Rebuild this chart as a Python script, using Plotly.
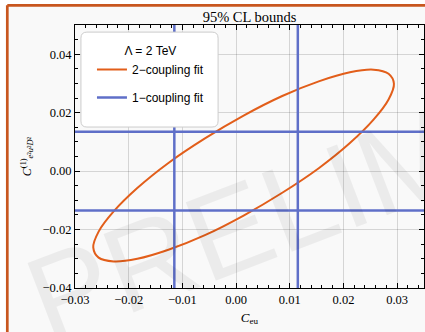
import plotly.graph_objects as go

# ---- data ----
# 95% CL contour of the 2-coupling fit
ellipse_ceu = [0.0294, 0.0284, 0.0256, 0.0212, 0.0154, 0.0086, 0.0014, -0.0058,
               -0.0126, -0.0184, -0.0228, -0.0256, -0.0266, -0.0256, -0.0228, -0.0184,
               -0.0126, -0.0058, 0.0014, 0.0086, 0.0154, 0.0212, 0.0256, 0.0284, 0.0294]
ellipse_c1 = [0.0299, 0.0333, 0.0347, 0.0338, 0.0307, 0.0257, 0.0190, 0.0112,
              0.0028, -0.0058, -0.0138, -0.0207, -0.0261, -0.0296, -0.0309, -0.0300,
              -0.0269, -0.0219, -0.0152, -0.0074, 0.0010, 0.0096, 0.0176, 0.0245, 0.0299]
# 1-coupling fit bounds (symmetric)
bound_ceu = [-0.0115, 0.0115]
bound_c1 = [-0.0135, 0.0135]

x_range = [-0.03, 0.035]
y_range = [-0.04, 0.05]
x_ticks = [-0.03, -0.02, -0.01, 0.00, 0.01, 0.02, 0.03]
y_ticks = [-0.04, -0.02, 0.00, 0.02, 0.04]

ORANGE = "#e25e1a"
BLUE = "#5f6fc8"
FRAME = "#c8561e"
BG = "#f9f9f9"
SERIF = "Liberation Serif"
SANS = "Liberation Sans"

# build 1-coupling line set from bounds and axis ranges
bx, by = [], []
for v in bound_ceu:
    bx += [v, v, None]
    by += [y_range[0] - 1, y_range[1] + 1, None]
for v in bound_c1:
    bx += [x_range[0] - 1, x_range[1] + 1, None]
    by += [v, v, None]

fig = go.Figure()
fig.add_trace(go.Scatter(x=ellipse_ceu, y=ellipse_c1, mode="lines",
                         line=dict(color=ORANGE, width=2, shape="spline", smoothing=1.0),
                         name="2\u2212coupling fit", legendgroup="a", hoverinfo="skip"))
fig.add_trace(go.Scatter(x=bx, y=by, mode="lines",
                         line=dict(color=BLUE, width=2.5),
                         name="1\u2212coupling fit", legendgroup="b", hoverinfo="skip"))

axis_common = dict(
    showline=True, linecolor="black", linewidth=1, mirror="ticks",
    ticks="inside", ticklen=5, tickcolor="black", tickwidth=1,
    showgrid=True, gridcolor="rgba(0,0,0,0.14)", gridwidth=1,
    zeroline=False, tickfont=dict(family=SERIF, size=12.5, color="black"),
    tickformat=".2f",
)

fig.update_xaxes(range=x_range, tickvals=x_ticks,
                 minor=dict(dtick=0.002, ticks="inside", ticklen=3, tickcolor="black", showgrid=False),
                 title=dict(text="<i>C</i><sub>eu</sub>", font=dict(family=SERIF, size=13, color="black"), standoff=6),
                 **axis_common)
fig.update_yaxes(range=y_range, tickvals=y_ticks,
                 minor=dict(dtick=0.005, ticks="inside", ticklen=3, tickcolor="black", showgrid=False),
                 title=dict(text="<i>C</i><sup>(1)</sup><sub><i>e</i>\u00b2<i>u</i>\u00b2<i>D</i>\u00b2</sub>",
                            font=dict(family=SERIF, size=12, color="black"), standoff=8),
                 **axis_common)

# page frame (top/left orange border) and rounded legend box
px_w, px_h = 349.0, 262.7          # plot area size in pixels
left_edge = (7.3 - 75) / px_w      # paper x of the left border
top_edge = 1 + (25 - 5.3) / px_h   # paper y of the top border
fig_left = -75 / px_w
fig_right = 1 + 1 / px_w
fig_top = 1 + 25 / px_h
fig_bottom = -44 / px_h

rx, ry = 6 / px_w, 6 / px_h
lx0, lx1, ly0, ly1 = 0.017, 0.410, 0.612, 0.973
legend_path = (f"M {lx0+rx},{ly1} L {lx1-rx},{ly1} Q {lx1},{ly1} {lx1},{ly1-ry} "
               f"L {lx1},{ly0+ry} Q {lx1},{ly0} {lx1-rx},{ly0} L {lx0+rx},{ly0} "
               f"Q {lx0},{ly0} {lx0},{ly0+ry} L {lx0},{ly1-ry} Q {lx0},{ly1} {lx0+rx},{ly1} Z")
fig.update_layout(shapes=[
    dict(type="rect", xref="paper", yref="paper", x0=fig_left, x1=left_edge, y0=fig_bottom, y1=fig_top,
         fillcolor="white", line=dict(width=0), layer="below"),
    dict(type="rect", xref="paper", yref="paper", x0=fig_left, x1=fig_right, y0=top_edge, y1=fig_top,
         fillcolor="white", line=dict(width=0), layer="below"),
    dict(type="line", xref="paper", yref="paper", x0=left_edge, x1=left_edge, y0=fig_bottom, y1=top_edge,
         line=dict(color=FRAME, width=2.7), layer="below"),
    dict(type="line", xref="paper", yref="paper", x0=left_edge, x1=fig_right, y0=top_edge, y1=top_edge,
         line=dict(color=FRAME, width=2.7), layer="below"),
    dict(type="path", xref="paper", yref="paper", path=legend_path,
         fillcolor="white", line=dict(color="#cccccc", width=1), layer="above"),
])

fig.add_annotation(text="PRELIMINARY", xref="paper", yref="paper", x=-0.196, y=-0.32,
                   xanchor="left", yanchor="bottom", showarrow=False, textangle=-21,
                   font=dict(family=SANS, size=122, color="rgba(0,0,0,0.055)"))

fig.update_layout(
    width=425, height=332,
    margin=dict(l=75, r=1, t=25, b=44),
    paper_bgcolor=BG, plot_bgcolor=BG,
    title=dict(text="95% CL bounds", x=0.5, xref="paper", y=1 - 17 / 332, yanchor="middle",
               font=dict(family=SERIF, size=14.5, color="black")),
    legend=dict(x=0.0486, y=0.945, xanchor="left", yanchor="top",
                bgcolor="rgba(0,0,0,0)", borderwidth=0,
                font=dict(family=SANS, size=12, color="black"),
                title=dict(text="\u039b = 2 TeV", side="top center", font=dict(family=SANS, size=12, color="black")),
                tracegroupgap=9, itemwidth=30),
    showlegend=True,
)

fig.write_html("out.html", config={"displayModeBar": False},
               post_script="document.body.style.margin='0';document.body.style.overflow='hidden';")
